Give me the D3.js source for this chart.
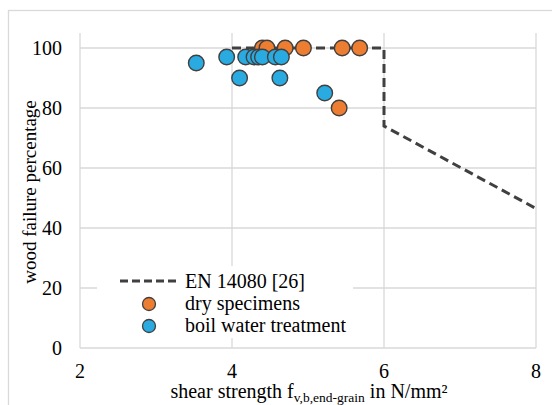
<!DOCTYPE html>
<meta charset="utf-8">
<style>
body { margin: 0; background: #fff; }
.grid line { stroke: #d9d9d9; stroke-width: 1.3px; }
</style>
<svg width="552" height="405"></svg>
<script src="https://d3js.org/d3.v7.min.js"></script>
<script>
// EN 14080 requirement line
var enX = [4, 6, 6, 8];
var enY = [100, 100, 74, 46.5];

// dry specimens
var dryX = [4.40, 4.46, 4.70, 4.94, 5.45, 5.68, 5.41];
var dryY = [100, 100, 100, 100, 100, 100, 80];

// boil water treatment
var boilX = [3.53, 3.93, 4.10, 4.18, 4.29, 4.35, 4.40, 4.57, 4.65, 4.63, 5.22];
var boilY = [95, 97, 90, 97, 97, 97, 97, 97, 97, 90, 85];

var xTicks = [2, 4, 6, 8];
var yTicks = [0, 20, 40, 60, 80, 100];

var FONT = "Liberation Serif";

var svg = d3.select("svg");

var x = d3.scaleLinear().domain([2, 8]).range([80, 536]);
var y = d3.scaleLinear().domain([0, 105]).range([348, 33]);

// outer chart frame
svg.append("rect")
    .attr("x", 8.5).attr("y", 10.5)
    .attr("width", 600).attr("height", 500)
    .attr("fill", "none")
    .attr("stroke", "#d9d9d9")
    .attr("stroke-width", 1.3);

var grid = svg.append("g").attr("class", "grid");

grid.selectAll(".hy")
    .data(yTicks.filter(function(d) { return d > 0; }))
  .enter().append("line")
    .attr("x1", x(2)).attr("x2", x(8))
    .attr("y1", function(d) { return y(d); })
    .attr("y2", function(d) { return y(d); });

grid.selectAll(".vx")
    .data(xTicks)
  .enter().append("line")
    .attr("x1", function(d) { return x(d); })
    .attr("x2", function(d) { return x(d); })
    .attr("y1", y(105)).attr("y2", y(0));

// bottom axis line
grid.append("line")
    .attr("x1", x(2)).attr("x2", x(8))
    .attr("y1", y(0)).attr("y2", y(0));

// tick labels
svg.selectAll(".ylab")
    .data(yTicks)
  .enter().append("text")
    .attr("x", 62)
    .attr("y", function(d) { return y(d); })
    .attr("dy", "0.33em")
    .attr("text-anchor", "end")
    .style("font-family", FONT)
    .style("font-size", "20px")
    .text(function(d) { return d; });

svg.selectAll(".xlab")
    .data(xTicks)
  .enter().append("text")
    .attr("x", function(d) { return x(d); })
    .attr("y", 378)
    .attr("text-anchor", "middle")
    .style("font-family", FONT)
    .style("font-size", "20px")
    .text(function(d) { return d; });

// axis titles
svg.append("text")
    .attr("transform", "translate(36,192) rotate(-90)")
    .attr("text-anchor", "middle")
    .style("font-family", FONT)
    .style("font-size", "19px")
    .text("wood failure percentage");

var xt = svg.append("text")
    .attr("x", 309).attr("y", 398)
    .attr("text-anchor", "middle")
    .style("font-family", FONT)
    .style("font-size", "20px");
xt.append("tspan").text("shear strength f");
xt.append("tspan").attr("dy", 4).style("font-size", "13.5px").text("v,b,end-grain");
xt.append("tspan").attr("dy", -4).text(" in N/mm²");

// EN 14080 dashed line
var line = d3.line()
    .x(function(d) { return x(d[0]); })
    .y(function(d) { return y(d[1]); });

svg.append("path")
    .datum(d3.zip(enX, enY))
    .attr("d", line)
    .attr("fill", "none")
    .attr("stroke", "#404040")
    .attr("stroke-width", 3)
    .attr("stroke-dasharray", "9,5");

// markers
function dots(xs, ys, color) {
  svg.append("g").selectAll("circle")
      .data(d3.zip(xs, ys))
    .enter().append("circle")
      .attr("cx", function(d) { return x(d[0]); })
      .attr("cy", function(d) { return y(d[1]); })
      .attr("r", 7.8)
      .attr("fill", color)
      .attr("stroke", "#404040")
      .attr("stroke-width", 1.4);
}
dots(dryX, dryY, "#ED7D31");
dots(boilX, boilY, "#29ABE2");

// legend
var lg = svg.append("g");
lg.append("rect")
    .attr("x", 97).attr("y", 266)
    .attr("width", 256).attr("height", 72)
    .attr("fill", "#fff");
lg.append("line")
    .attr("x1", 120).attr("x2", 180)
    .attr("y1", 281).attr("y2", 281)
    .attr("stroke", "#404040")
    .attr("stroke-width", 3)
    .attr("stroke-dasharray", "8,4");
lg.append("circle").attr("cx", 149).attr("cy", 304).attr("r", 6.5)
    .attr("fill", "#ED7D31").attr("stroke", "#404040").attr("stroke-width", 1.3);
lg.append("circle").attr("cx", 149).attr("cy", 326).attr("r", 6.5)
    .attr("fill", "#29ABE2").attr("stroke", "#404040").attr("stroke-width", 1.3);
var names = ["EN 14080 [26]", "dry specimens", "boil water treatment"];
lg.selectAll(".lt")
    .data(names)
  .enter().append("text")
    .attr("x", 185)
    .attr("y", function(d, i) { return 288 + i * 22; })
    .style("font-family", FONT)
    .style("font-size", "20px")
    .text(function(d) { return d; });
</script>
